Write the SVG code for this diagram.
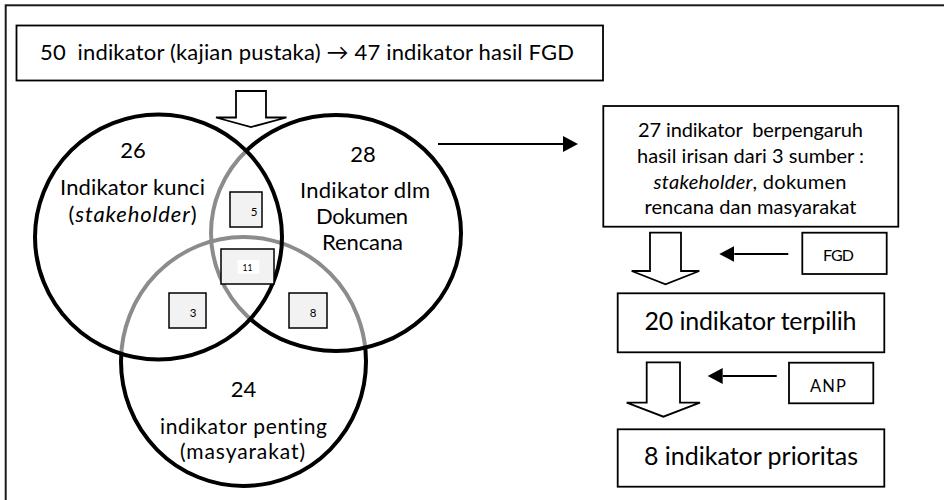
<svg xmlns="http://www.w3.org/2000/svg" width="944" height="500" viewBox="0 0 944 500">
  <style>
    .box { fill: #ffffff; stroke: #000000; stroke-width: 1.8; }
    .cnt { fill: #f2f2f2; stroke: #000000; stroke-width: 1.5; }
    .txt { font-family: Lato, "DejaVu Sans", sans-serif; fill: #000000; text-anchor: middle; white-space: pre; font-variant-ligatures: none; font-feature-settings: "liga" 0, "clig" 0; }
    .ring { fill: none; stroke-width: 4; }
    .blk { stroke: #000000; }
    .gry { stroke: #8c8c8c; }
    .blockarrow { fill: #ffffff; stroke: #000000; stroke-width: 1.8; stroke-linejoin: miter; }
    .line { stroke: #000000; stroke-width: 1.8; fill: none; }
  </style>
  <defs>
    <marker id="head" markerUnits="userSpaceOnUse" markerWidth="16" markerHeight="16" refX="0" refY="8" orient="auto">
      <path d="M0,0 L15,8 L0,16 Z" fill="#000000"/>
    </marker>
    <!-- interiors and exteriors of the three sets -->
    <clipPath id="inL">
      <ellipse cx="158.5" cy="237" rx="123.5" ry="122.5"/>
    </clipPath>
    <clipPath id="inLR">
      <ellipse cx="158.5" cy="237" rx="123.5" ry="122.5"/>
      <ellipse cx="336" cy="233" rx="125" ry="118"/>
    </clipPath>
    <clipPath id="outL">
      <path clip-rule="evenodd" d="M-20,-20 H980 V540 H-20 Z M35,237 a123.5,122.5 0 1,0 247,0 a123.5,122.5 0 1,0 -247,0 Z"/>
    </clipPath>
    <clipPath id="outR">
      <path clip-rule="evenodd" d="M-20,-20 H980 V540 H-20 Z M211,233 a125,118 0 1,0 250,0 a125,118 0 1,0 -250,0 Z"/>
    </clipPath>
  </defs>

  <!-- outer frame -->
  <rect id="frame" x="5.7" y="5.3" width="980" height="540" fill="none" stroke="#1a1a1a" stroke-width="2"/>

  <!-- source box -->
  <g id="node-source">
    <rect class="box" x="16.5" y="25.5" width="586.5" height="55"/>
    <text class="txt" x="307" y="60" font-size="22" textLength="534">50  indikator (kajian pustaka) → 47 indikator hasil FGD</text>
  </g>

  <!-- Venn diagram of the three sources -->
  <g id="venn">
    <!-- overlapping parts in grey -->
    <ellipse class="ring gry" cx="336" cy="233" rx="125" ry="118" clip-path="url(#inL)"/>
    <ellipse class="ring gry" cx="243.5" cy="361.5" rx="122.5" ry="124.5" clip-path="url(#inLR)"/>
    <!-- outer parts in black -->
    <ellipse class="ring blk" cx="158.5" cy="237" rx="123.5" ry="122.5"/>
    <ellipse class="ring blk" cx="336" cy="233" rx="125" ry="118" clip-path="url(#outL)"/>
    <g clip-path="url(#outL)">
      <ellipse class="ring blk" cx="243.5" cy="361.5" rx="122.5" ry="124.5" clip-path="url(#outR)"/>
    </g>
  </g>

  <g id="node-stakeholder">
    <text class="txt" x="133" y="158" font-size="22">26</text>
    <text class="txt" x="132.5" y="195" font-size="22" textLength="145">Indikator kunci</text>
    <text class="txt" x="132.5" y="221.5" font-size="22" textLength="128">(<tspan font-style="italic">stakeholder</tspan>)</text>
  </g>
  <g id="node-dokumen">
    <text class="txt" x="363" y="161.5" font-size="22">28</text>
    <text class="txt" x="365" y="198" font-size="22" textLength="130">Indikator dlm</text>
    <text class="txt" x="362" y="224" font-size="22" textLength="92">Dokumen</text>
    <text class="txt" x="362.5" y="250" font-size="22" textLength="81">Rencana</text>
  </g>
  <g id="node-masyarakat">
    <text class="txt" x="243.5" y="396.5" font-size="22">24</text>
    <text class="txt" x="243.5" y="434" font-size="21" textLength="167">indikator penting</text>
    <text class="txt" x="242.5" y="458.5" font-size="21" textLength="125">(masyarakat)</text>
  </g>

  <!-- intersection counts -->
  <g id="count-5">
    <rect class="cnt" x="230" y="192" width="32" height="35"/>
    <text class="txt" x="254" y="215.5" font-size="11.5">5</text>
  </g>
  <g id="count-11">
    <rect class="cnt" x="221" y="249" width="53" height="35"/>
    <rect x="237.7" y="260" width="21.6" height="13.7" fill="#ffffff"/>
    <text class="txt" x="247.5" y="270.5" font-size="8.5">11</text>
  </g>
  <g id="count-3">
    <rect class="cnt" x="169" y="293" width="37" height="35"/>
    <text class="txt" x="193" y="316.5" font-size="11.5">3</text>
  </g>
  <g id="count-8">
    <rect class="cnt" x="289" y="293" width="38" height="35"/>
    <text class="txt" x="313" y="316.5" font-size="11.5">8</text>
  </g>

  <!-- right-hand flow -->
  <g id="node-27">
    <rect class="box" x="603.3" y="106" width="295" height="120.7"/>
    <text class="txt" x="750.5" y="136.7" font-size="20" textLength="225">27 indikator  berpengaruh</text>
    <text class="txt" x="750.5" y="162.7" font-size="20" textLength="227">hasil irisan dari 3 sumber :</text>
    <text class="txt" x="750" y="189" font-size="20" textLength="193"><tspan font-style="italic">stakeholder</tspan>, dokumen</text>
    <text class="txt" x="750.5" y="214" font-size="20" textLength="212">rencana dan masyarakat</text>
  </g>
  <g id="node-fgd">
    <rect class="box" x="802.3" y="232.7" width="84.4" height="41.3"/>
    <text class="txt" x="838.5" y="260.5" font-size="16" textLength="31">FGD</text>
  </g>
  <g id="node-20">
    <rect class="box" x="617.7" y="293.3" width="266.6" height="59"/>
    <text class="txt" x="750.5" y="330" font-size="25" textLength="212">20 indikator terpilih</text>
  </g>
  <g id="node-anp">
    <rect class="box" x="789" y="362.7" width="84.3" height="40.6"/>
    <text class="txt" x="828" y="391.5" font-size="16.5" textLength="36">ANP</text>
  </g>
  <g id="node-8">
    <rect class="box" x="617.7" y="429.3" width="266.6" height="57.4"/>
    <text class="txt" x="751" y="465" font-size="25" textLength="214">8 indikator prioritas</text>
  </g>

  <!-- connectors -->
  <g id="connectors">
    <path class="blockarrow" d="M236,91 H266 V117.5 H286.5 L251,127 L216,117.5 H236 Z"/>
    <path class="blockarrow" d="M650,232.7 H681 V271 H699.3 L665.5,284.3 L631.7,271 H650 Z"/>
    <path class="blockarrow" d="M646.7,362.3 H680 V402.7 H700 L663.4,416.7 L626.7,402.7 H646.7 Z"/>
    <line class="line" x1="438" y1="144" x2="563" y2="144" marker-end="url(#head)"/>
    <line class="line" x1="788.3" y1="254" x2="734.3" y2="254" marker-end="url(#head)"/>
    <line class="line" x1="776.7" y1="376" x2="722.7" y2="376" marker-end="url(#head)"/>
  </g>
</svg>
